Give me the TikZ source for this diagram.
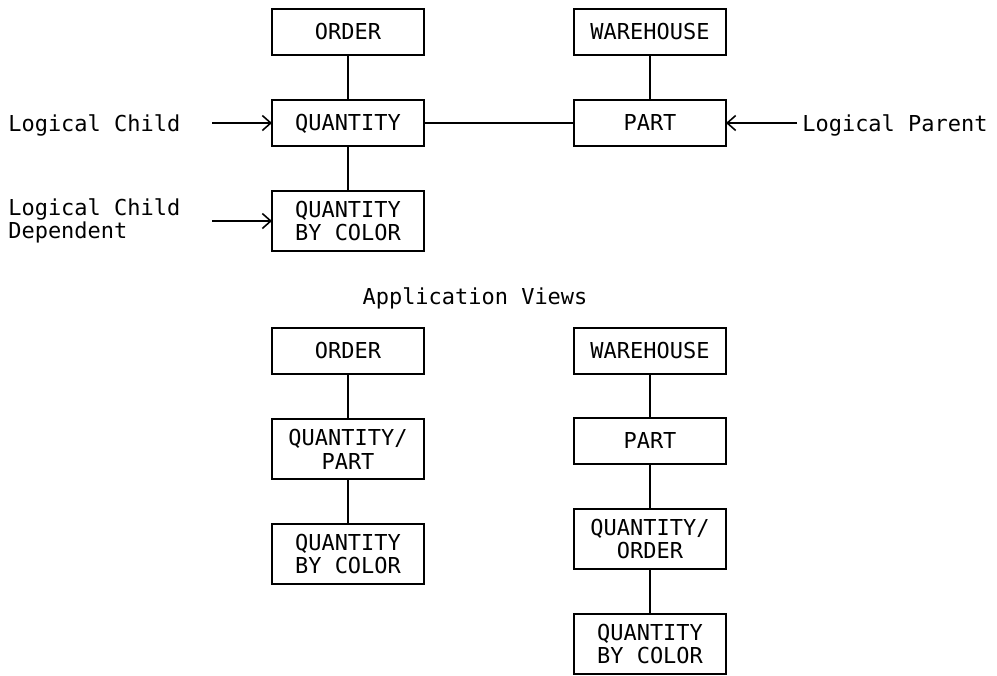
\documentclass[tikz,border=0pt]{standalone}
\usepackage{fontspec}
\setmonofont{DejaVu Sans Mono}
\usepackage{tikz}
\usetikzlibrary{arrows.meta,positioning}

\begin{document}
\begin{tikzpicture}[
    node distance=0.9cm and 3cm,
    box/.style={draw, line width=0.9pt, outer sep=0pt, minimum width=3.04cm, align=center, font=\ttfamily\fontsize{12.5}{13.5}\selectfont, inner sep=2pt},
    seg/.style={box, minimum height=0.92cm, text height=11.5pt, text depth=2.5pt},
    tall/.style={box, minimum height=1.2cm},
    lbl/.style={font=\ttfamily\fontsize{12.5}{13.5}\selectfont, align=left, inner sep=0pt},
    arr/.style={-{Straight Barb[length=1.7mm, width=3mm]}, line width=0.9pt},
    con/.style={line width=0.9pt},
]
\useasboundingbox (0,0) rectangle (19.94,-13.5);

% Physical databases
\node[seg] (order) at (6.96,-0.64) {ORDER};
\node[seg, below=of order] (qty) {QUANTITY};
\node[tall, below=of qty] (qbc) {QUANTITY\\BY COLOR};
\node[seg, right=of order] (wh) {WAREHOUSE};
\node[seg, below=of wh] (part) {PART};

% Labels with arrows
\node[lbl, anchor=west] (lchild) at (0.16,-2.5) {Logical Child};
\node[lbl, anchor=west] (lcdep) at (0.16,-4.42) {Logical Child\\Dependent};
\coordinate[left=1.2cm of qty.west] (lcin);
\coordinate[left=1.2cm of qbc.west] (lcdin);
\coordinate[right=1.42cm of part.east] (lpin);
\node[lbl, anchor=west, right=0.1cm of lpin, yshift=-0.04cm] (lparent) {Logical Parent};

\draw[con] (order) -- (qty);
\draw[con] (qty) -- (qbc);
\draw[con] (wh) -- (part);
\draw[con] (qty) -- (part);
\draw[arr] (lcin) -- (qty);
\draw[arr] (lcdin) -- (qbc);
\draw[arr] (lpin) -- (part);

% Application views
\node[lbl] (views) at (9.5,-5.96) {Application Views};

\node[seg] (vorder) at (6.96,-7.02) {ORDER};
\node[tall, below=of vorder] (vqp) {QUANTITY/\\PART};
\node[tall, below=of vqp] (vqbc) {QUANTITY\\BY COLOR};
\node[seg, right=of vorder] (vwh) {WAREHOUSE};
\node[seg, below=0.88cm of vwh] (vpart) {PART};
\node[tall, below=of vpart] (vqo) {QUANTITY/\\ORDER};
\node[tall, below=of vqo] (vqbc2) {QUANTITY\\BY COLOR};

\draw[con] (vorder) -- (vqp);
\draw[con] (vqp) -- (vqbc);
\draw[con] (vwh) -- (vpart);
\draw[con] (vpart) -- (vqo);
\draw[con] (vqo) -- (vqbc2);
\end{tikzpicture}
\end{document}
